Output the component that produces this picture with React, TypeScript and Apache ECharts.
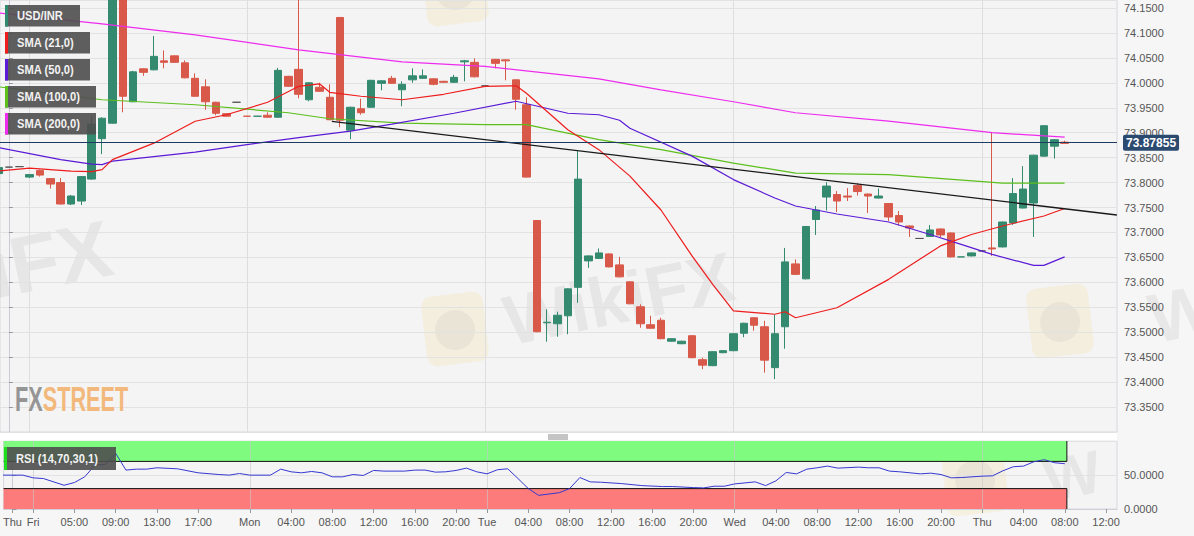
import { useEffect, useRef } from 'react'
import * as echarts from 'echarts'

// hourly slots, index 0 = first full candle of the visible window
const tickIdx = [0, 2, 6, 10, 14, 18, 23, 27, 31, 35, 39, 43, 46, 50, 54, 58, 62, 66, 70, 74, 78, 82, 86, 90, 94, 98, 102, 106]
const tickText = ['Thu', 'Fri', '05:00', '09:00', '13:00', '17:00', 'Mon', '04:00', '08:00', '12:00', '16:00', '20:00', 'Tue', '04:00', '08:00', '12:00', '16:00', '20:00', 'Wed', '04:00', '08:00', '12:00', '16:00', '20:00', 'Thu', '04:00', '08:00', '12:00']
const dayIdx = [2, 23, 46, 70, 94]

// [open, close, low, high], first row is index -1
const firstIdx = -1
const candles = [
  [73.818, 73.83, 73.816, 73.832],
  [73.831, 73.831, 73.831, 73.831],
  [73.832, 73.832, 73.832, 73.832],
  [73.811, 73.816, 73.809, 73.817],
  [73.824, 73.815, 73.812, 73.826],
  [73.808, 73.797, 73.788, 73.809],
  [73.8, 73.757, 73.756, 73.809],
  [73.757, 73.773, 73.755, 73.775],
  [73.763, 73.812, 73.755, 73.813],
  [73.807, 73.917, 73.806, 73.933],
  [73.888, 73.929, 73.857, 73.931],
  [73.919, 74.2, 73.918, 74.21],
  [74.2, 73.973, 73.941, 74.21],
  [73.962, 74.022, 73.961, 74.024],
  [74.028, 74.021, 74.014, 74.029],
  [74.026, 74.053, 74.025, 74.094],
  [74.044, 74.041, 74.029, 74.065],
  [74.054, 74.041, 74.04, 74.055],
  [74.04, 74.01, 74.009, 74.045],
  [74.009, 73.973, 73.972, 74.019],
  [73.992, 73.962, 73.946, 74.007],
  [73.961, 73.939, 73.935, 73.962],
  [73.938, 73.933, 73.932, 73.939],
  [73.961, 73.961, 73.961, 73.961],
  [73.933, 73.933, 73.933, 73.933],
  [73.933, 73.933, 73.933, 73.933],
  [73.935, 73.931, 73.93, 73.941],
  [73.931, 74.025, 73.93, 74.03],
  [74.013, 73.993, 73.992, 74.014],
  [74.027, 73.977, 73.969, 74.2],
  [73.966, 74.0, 73.963, 74.001],
  [73.991, 73.983, 73.982, 74.0],
  [73.971, 73.926, 73.925, 73.997],
  [74.131, 73.925, 73.911, 74.132],
  [73.905, 73.951, 73.887, 73.952],
  [73.948, 73.94, 73.936, 73.968],
  [73.951, 74.005, 73.95, 74.006],
  [73.999, 74.004, 73.985, 74.005],
  [74.009, 73.999, 73.998, 74.014],
  [73.986, 73.997, 73.953, 74.003],
  [74.006, 74.014, 74.0, 74.029],
  [74.009, 74.014, 74.008, 74.027],
  [74.008, 73.997, 73.995, 74.009],
  [74.003, 74.001, 74.0, 74.004],
  [74.001, 74.011, 74.0, 74.016],
  [74.042, 74.044, 74.003, 74.046],
  [74.041, 74.012, 74.011, 74.049],
  [73.994, 73.994, 73.994, 73.994],
  [74.047, 74.039, 74.029, 74.048],
  [74.046, 74.044, 74.005, 74.047],
  [74.006, 73.967, 73.946, 74.007],
  [73.956, 73.811, 73.81, 73.971],
  [73.724, 73.501, 73.5, 73.725],
  [73.519, 73.52, 73.481, 73.546],
  [73.517, 73.534, 73.491, 73.541],
  [73.533, 73.587, 73.496, 73.588],
  [73.59, 73.807, 73.559, 73.863],
  [73.643, 73.653, 73.629, 73.654],
  [73.648, 73.659, 73.647, 73.668],
  [73.657, 73.631, 73.63, 73.658],
  [73.635, 73.611, 73.61, 73.651],
  [73.601, 73.557, 73.556, 73.602],
  [73.551, 73.517, 73.509, 73.556],
  [73.515, 73.508, 73.507, 73.533],
  [73.524, 73.487, 73.486, 73.529],
  [73.482, 73.487, 73.481, 73.488],
  [73.477, 73.482, 73.476, 73.483],
  [73.493, 73.449, 73.448, 73.494],
  [73.445, 73.434, 73.426, 73.449],
  [73.433, 73.461, 73.432, 73.462],
  [73.459, 73.463, 73.458, 73.464],
  [73.463, 73.497, 73.462, 73.498],
  [73.498, 73.518, 73.49, 73.519],
  [73.529, 73.514, 73.503, 73.53],
  [73.511, 73.444, 73.419, 73.523],
  [73.429, 73.497, 73.406, 73.535],
  [73.511, 73.641, 73.467, 73.669],
  [73.637, 73.616, 73.615, 73.646],
  [73.607, 73.712, 73.606, 73.713],
  [73.726, 73.745, 73.695, 73.753],
  [73.771, 73.793, 73.744, 73.801],
  [73.776, 73.763, 73.741, 73.783],
  [73.773, 73.771, 73.763, 73.789],
  [73.794, 73.782, 73.774, 73.799],
  [73.777, 73.773, 73.739, 73.778],
  [73.769, 73.773, 73.768, 73.788],
  [73.758, 73.731, 73.723, 73.759],
  [73.734, 73.721, 73.714, 73.743],
  [73.713, 73.709, 73.691, 73.714],
  [73.688, 73.688, 73.688, 73.688],
  [73.692, 73.705, 73.691, 73.715],
  [73.707, 73.695, 73.69, 73.708],
  [73.699, 73.651, 73.65, 73.7],
  [73.651, 73.651, 73.651, 73.651],
  [73.653, 73.659, 73.652, 73.66],
  [73.663, 73.663, 73.663, 73.663],
  [73.669, 73.667, 73.653, 73.9],
  [73.671, 73.721, 73.67, 73.722],
  [73.719, 73.778, 73.715, 73.809],
  [73.749, 73.787, 73.748, 73.833],
  [73.759, 73.855, 73.691, 73.856],
  [73.853, 73.914, 73.852, 73.915],
  [73.873, 73.886, 73.848, 73.887],
  [73.881, 73.87855, 73.878, 73.884],
]
const greyDoji = [0, 1, 22, 46, 88, 94]
const lastPrice = 73.87855

// moving averages, [slot index, value]
const sma21 = [
  [-1, 73.823], [2, 73.829], [6, 73.823], [8, 73.822], [9, 73.826], [10, 73.846], [14, 73.879],
  [18, 73.923], [21, 73.936], [25, 73.961], [28, 73.993], [30, 73.998], [31, 73.981], [34, 73.973],
  [38, 73.966], [42, 73.977], [46, 73.993], [49, 73.994], [50, 73.979], [54, 73.906], [57, 73.866],
  [60, 73.813], [63, 73.745], [66, 73.653], [68, 73.596], [70, 73.543], [74, 73.536], [75, 73.541],
  [76, 73.529], [80, 73.549], [85, 73.606], [90, 73.673], [93, 73.696], [96, 73.713], [100, 73.733],
  [102, 73.748],
]
const sma50 = [
  [-1, 73.87], [5, 73.846], [8, 73.837], [9, 73.836], [10, 73.843], [18, 73.861], [23, 73.876],
  [28, 73.89], [33, 73.903], [37, 73.917], [43, 73.939], [49, 73.963], [54, 73.939], [57, 73.936],
  [59, 73.925], [60, 73.909], [66, 73.853], [70, 73.806], [74, 73.769], [76, 73.753], [80, 73.737],
  [85, 73.721], [89, 73.696], [92, 73.676], [95, 73.656], [99, 73.634], [100, 73.634], [102, 73.651],
]
const sma100 = [
  [-1, 73.992], [9, 73.966], [18, 73.956], [27, 73.94], [31, 73.928], [38, 73.919], [46, 73.916],
  [50, 73.916], [57, 73.886], [63, 73.866], [70, 73.839], [76, 73.819], [85, 73.816], [96, 73.799],
  [102, 73.799],
]
const sma200 = [
  [-1, 74.14], [9, 74.118], [18, 74.096], [28, 74.066], [38, 74.042], [46, 74.033], [57, 74.008],
  [63, 73.986], [70, 73.962], [76, 73.94], [85, 73.923], [95, 73.9], [102, 73.891],
]
const trendLine = [[31.2, 73.9226], [107.05, 73.735]]

// RSI (14)
const rsi = [
  [-1, 49.8], [1, 49.8], [2, 45.8], [3, 44.8], [5, 34.9], [6, 38.9], [7, 47.3], [8, 64.6], [9, 65.6],
  [10, 81.9], [11, 57.2], [12, 58.6], [13, 58.6], [14, 60.6], [16, 59.1], [18, 53.2], [20, 50.7],
  [21, 49.8], [22, 52.2], [23, 49.8], [25, 49.8], [26, 58.6], [27, 54.7], [28, 53.2], [29, 55.2],
  [30, 53.2], [31, 47.3], [32, 47.3], [33, 50.7], [34, 49.3], [35, 56.7], [36, 55.7], [38, 55.7],
  [39, 57.2], [40, 57.2], [41, 54.2], [42, 54.7], [43, 56.7], [44, 60.1], [45, 54.7], [46, 51.7],
  [47, 57.7], [48, 59.1], [49, 44.8], [50, 30], [51, 20.1], [52, 22], [53, 24], [54, 30], [55, 46.3],
  [56, 39.9], [57, 39.4], [59, 37.4], [61, 34.4], [63, 33], [64, 33], [66, 31.5], [67, 31], [68, 33.5],
  [69, 33.5], [70, 36.9], [72, 39.9], [73, 34.4], [74, 41.4], [75, 53.7], [76, 51.7], [77, 58.6],
  [78, 60.6], [79, 63.1], [80, 60.1], [82, 61.6], [83, 60.6], [84, 60.6], [85, 55.7], [86, 54.7],
  [88, 51.7], [89, 52.7], [90, 50.7], [91, 45.8], [92, 46.3], [94, 48.3], [95, 48.8], [96, 56.2],
  [97, 62.1], [98, 63.1], [99, 69.5], [100, 72.5], [101, 68.1], [102, 66.6],
]
const rsiHigh = 70
const rsiLow = 30
const zoneEnd = 102.2

const legendNames = ['USD/INR', 'SMA (21,0)', 'SMA (50,0)', 'SMA (100,0)', 'SMA (200,0)']
const legendColors = ['#2f8a70', '#ee1c1c', '#5a1ad6', '#5cbf1c', '#ee2cee']
const legendWidths = [75, 85, 85, 91, 91]

const UP = '#338a6f'
const DOWN = '#d8594a'
const X_MIN = -0.86
const X_MAX = 107.06
const FONT = 'Arial, "Liberation Sans", sans-serif'

function logo(x: number, y: number) {
  return {
    type: 'group', x, y, rotation: 0.12,
    children: [
      { type: 'rect', z: 0, shape: { x: 0, y: 0, width: 62, height: 70, r: 10 }, style: { fill: 'rgba(246,214,120,0.16)' } },
      { type: 'circle', z: 0, shape: { cx: 31, cy: 36, r: 20 }, style: { fill: 'rgba(150,150,150,0.1)' } },
    ],
  }
}

function legendBox(name: string, color: string, x: number, y: number, w: number, h: number) {
  return {
    type: 'group', x, y,
    children: [
      { type: 'rect', z: 100, shape: { x: 0, y: 0, width: w, height: h }, style: { fill: 'rgba(78,78,78,0.9)' } },
      { type: 'rect', z: 101, shape: { x: 0, y: 0, width: 3, height: h }, style: { fill: color } },
      {
        type: 'text', z: 102, x: 12, y: h / 2, scaleX: 0.86,
        style: { text: name, fill: '#f2f2f2', font: `bold 13px ${FONT}`, verticalAlign: 'middle' },
      },
    ],
  }
}

export default function App() {
  const ref = useRef<HTMLDivElement>(null)

  useEffect(() => {
    if (!ref.current) return
    const chart = echarts.init(ref.current, null, { renderer: 'svg' })

    const candleData = candles.map((c, i) => {
      const idx = i + firstIdx
      if (greyDoji.includes(idx)) {
        return { value: [idx, ...c], itemStyle: { color: '#555', color0: '#555', borderColor: '#555', borderColor0: '#555' } }
      }
      return [idx, ...c]
    })

    const lineSeries = (name: string, data: number[][], color: string) => ({
      name,
      type: 'line',
      data,
      xAxisIndex: 0,
      yAxisIndex: 0,
      showSymbol: false,
      z: 3,
      lineStyle: { color, width: 1.2 },
      silent: true,
    })

    const wmStyle = (size: number) => ({
      font: `bold ${size}px ${FONT}`,
      fill: 'rgba(120,120,120,0.11)',
      verticalAlign: 'middle',
    })

    const option: any = {
      animation: false,
      backgroundColor: '#f6f6f6',
      grid: [
        { left: 0, right: 77, top: 0, height: 432, show: true, backgroundColor: '#f4f4f4', borderColor: '#d6d7e0', borderWidth: 1 },
        { left: 0, right: 77, top: 441, height: 68, show: true, backgroundColor: '#f4f4f4', borderColor: '#d6d7e0', borderWidth: 1 },
      ],
      xAxis: [
        {
          type: 'value', gridIndex: 0, min: X_MIN, max: X_MAX, show: false,
          splitLine: { show: false },
        },
        {
          type: 'value', gridIndex: 1, min: X_MIN, max: X_MAX,
          axisLine: { show: true, lineStyle: { color: '#d0d0d8' } },
          axisTick: { show: true, customValues: tickIdx, length: 4, lineStyle: { color: '#999' } },
          axisLabel: {
            customValues: tickIdx,
            color: '#555',
            fontSize: 11,
            fontFamily: FONT,
            margin: 7,
            formatter: (v: number) => tickText[tickIdx.indexOf(v)] ?? '',
          },
          splitLine: { show: false },
        },
      ],
      yAxis: [
        {
          type: 'value', gridIndex: 0, position: 'right', min: 73.3, max: 74.166, interval: 0.05,
          axisLine: { show: true, lineStyle: { color: '#c9cad8' } },
          axisTick: { show: true, length: 4, lineStyle: { color: '#999' } },
          axisLabel: {
            color: '#555', fontSize: 11, fontFamily: FONT, margin: 7,
            showMinLabel: false, showMaxLabel: false,
            formatter: (v: number) => v.toFixed(4),
          },
          splitLine: { show: true, lineStyle: { color: '#e2e2e2' } },
        },
        {
          type: 'value', gridIndex: 1, position: 'right', min: 0, max: 100, interval: 50,
          axisLine: { show: true, lineStyle: { color: '#c9cad8' } },
          axisTick: { show: true, length: 4, lineStyle: { color: '#999' } },
          axisLabel: {
            color: '#555', fontSize: 11, fontFamily: FONT, margin: 7,
            showMaxLabel: false,
            formatter: (v: number) => v.toFixed(4),
          },
          splitLine: { show: true, lineStyle: { color: '#e2e2e2' } },
        },
      ],
      series: [
        {
          name: 'USD/INR',
          type: 'candlestick',
          xAxisIndex: 0,
          yAxisIndex: 0,
          data: candleData,
          encode: { x: 0, y: [1, 2, 3, 4] },
          barWidth: 8,
          z: 2,
          silent: true,
          itemStyle: { color: UP, color0: DOWN, borderColor: UP, borderColor0: DOWN, borderWidth: 1 },
          markLine: {
            silent: true,
            symbol: 'none',
            z: 5,
            lineStyle: { color: '#1d3a60', width: 1, type: 'solid' },
            label: {
              show: true,
              position: 'end',
              distance: 6,
              formatter: () => lastPrice.toFixed(5),
              color: '#fff',
              fontWeight: 'bold',
              fontSize: 12,
              fontFamily: FONT,
              backgroundColor: '#2b4a70',
              padding: [2, 3, 2, 3],
              borderRadius: 2,
            },
            data: [{ yAxis: lastPrice }],
          },
        },
        {
          ...lineSeries('SMA (200,0)', sma200, legendColors[4]),
          markLine: {
            silent: true,
            symbol: 'none',
            z: 1,
            label: { show: false },
            lineStyle: { color: '#dedede', width: 1, type: 'solid' },
            data: dayIdx.map((d) => ({ xAxis: d })),
          },
        },
        lineSeries('SMA (100,0)', sma100, legendColors[3]),
        lineSeries('SMA (50,0)', sma50, legendColors[2]),
        lineSeries('SMA (21,0)', sma21, legendColors[1]),
        { ...lineSeries('trend', trendLine, '#1a1a1a'), lineStyle: { color: '#1a1a1a', width: 1.3 } },
        {
          name: 'RSI',
          type: 'line',
          xAxisIndex: 1,
          yAxisIndex: 1,
          data: rsi,
          showSymbol: false,
          silent: true,
          z: 4,
          lineStyle: { color: '#3438d0', width: 1 },
          markArea: {
            silent: true,
            data: [
              [{ xAxis: X_MIN, yAxis: rsiHigh, itemStyle: { color: '#7ffb7f', opacity: 1 } }, { xAxis: zoneEnd, yAxis: 100 }],
              [{ xAxis: X_MIN, yAxis: 0, itemStyle: { color: '#fd7b7b', opacity: 1 } }, { xAxis: zoneEnd, yAxis: rsiLow }],
            ],
          },
          markLine: {
            silent: true,
            symbol: 'none',
            z: 2,
            label: { show: false },
            lineStyle: { color: 'rgba(200,200,200,0.6)', width: 1, type: 'solid' },
            data: dayIdx.map((d) => ({ xAxis: d })),
          },
        },
        {
          name: 'zoneHigh', type: 'line', xAxisIndex: 1, yAxisIndex: 1, showSymbol: false, silent: true, z: 3,
          data: [[X_MIN, rsiHigh], [zoneEnd, rsiHigh], [zoneEnd, 100]],
          lineStyle: { color: '#111', width: 1 },
        },
        {
          name: 'zoneLow', type: 'line', xAxisIndex: 1, yAxisIndex: 1, showSymbol: false, silent: true, z: 3,
          data: [[X_MIN, rsiLow], [zoneEnd, rsiLow], [zoneEnd, 0]],
          lineStyle: { color: '#111', width: 1 },
        },
      ],
      graphic: [
        // white band between the two panels
        { type: 'rect', z: 0, shape: { x: 0, y: 432.5, width: 1117, height: 8 }, style: { fill: '#ffffff' } },
        // watermarks
        { type: 'text', z: 0, x: -150, y: 300, rotation: 0.2, style: { text: 'WikiFX', ...wmStyle(80) } },
        { type: 'text', z: 0, x: 505, y: 322, rotation: 0.2, style: { text: 'WikiFX', ...wmStyle(70) } },
        { type: 'text', z: 0, x: 1150, y: 320, rotation: 0.2, style: { text: 'Wi', ...wmStyle(70) } },
        { type: 'text', z: 0, x: 1045, y: 482, rotation: 0.2, style: { text: 'W', ...wmStyle(60) } },
        logo(420, 298),
        logo(1025, 290),
        logo(420, -42),
        logo(940, 448),
        // FXStreet mark
        {
          type: 'text', z: 50, x: 15, y: 399, scaleX: 0.62,
          style: {
            text: '{a|FX}{b|STREET}',
            verticalAlign: 'middle',
            rich: {
              a: { font: `bold 35px ${FONT}`, fill: '#959595' },
              b: { font: `bold 35px ${FONT}`, fill: '#f2b87c' },
            },
          },
        },
        // panel drag handle
        ...[435, 437, 439].map((y) => ({
          type: 'line', z: 50, shape: { x1: 548, y1: y, x2: 568, y2: y }, style: { stroke: '#8a8a8a', lineWidth: 1 },
        })),
        // legend boxes
        ...legendNames.map((name, i) => legendBox(name, legendColors[i], 5, 5 + i * 27, legendWidths[i], 21.5)),
        legendBox('RSI (14,70,30,1)', '#1fdc1f', 4, 447, 112, 23),
      ],
    }

    chart.setOption(option)
    return () => {
      chart.dispose()
    }
  }, [])

  return <div ref={ref} style={{ position: 'absolute', left: 0, top: 0, width: 1194, height: 536 }} />
}
